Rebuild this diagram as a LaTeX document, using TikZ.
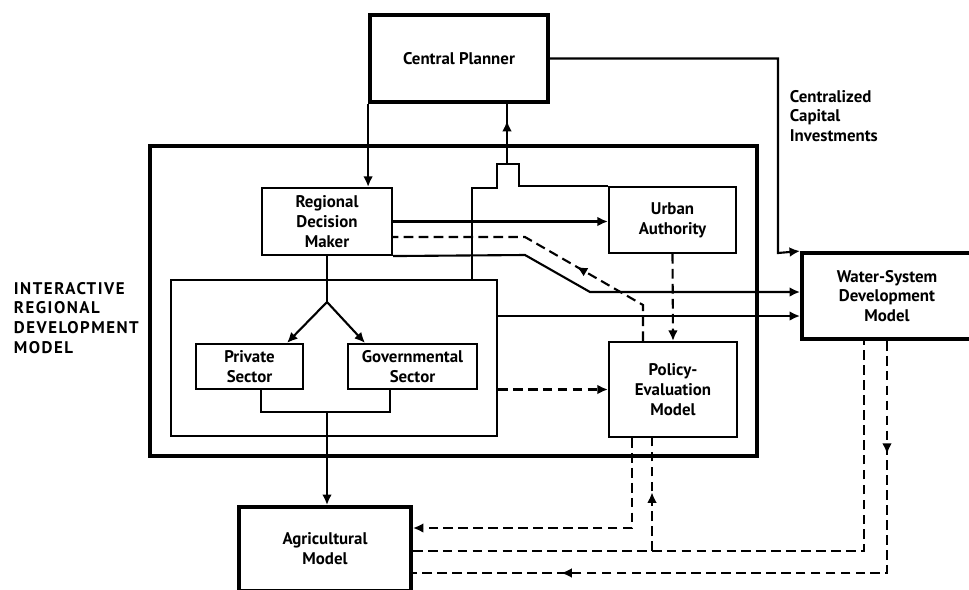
\documentclass[tikz,border=0pt]{standalone}
\usepackage{fontspec}
\setmainfont{PT Sans}
\usetikzlibrary{arrows.meta,decorations.markings}
\begin{document}
\begin{tikzpicture}[x=0.02cm, y=-0.02cm, font=\bfseries\fontsize{9.6}{11.3}\selectfont,
    >={Latex[length=6pt,width=5.5pt]}, line width=1.2pt,
    unit/.style={draw, line width=1.2pt, align=center, inner sep=0pt},
    major/.style={unit, line width=2.2pt},
    flow/.style={dash pattern=on 5.5pt off 3pt},
    midtip/.style={postaction={decorate, decoration={markings, mark=at position #1 with {\arrow{>}}}}}]
  \path[use as bounding box, clip] (0,0) rectangle (969,589);
  \node[major, minimum width=3.56cm, minimum height=1.74cm] (cp) at (459,58.5) {Central Planner};
  \node[major, minimum width=12.14cm, minimum height=6.2cm] (irdm) at (453.5,301) {};
  \node[unit, minimum width=2.6cm, minimum height=1.34cm] (rdm) at (327,221.5) {Regional\\Decision\\Maker};
  \node[unit, minimum width=2.54cm, minimum height=1.32cm] (urban) at (672.5,220) {Urban\\Authority};
  \node[unit, minimum width=6.52cm, minimum height=3.12cm] (sectors) at (334,358) {};
  \node[unit, minimum width=2.14cm, minimum height=0.9cm] (private) at (249.5,366.5) {Private\\Sector};
  \node[unit, minimum width=2.58cm, minimum height=0.9cm] (gov) at (412.5,366.5) {Governmental\\Sector};
  \node[unit, minimum width=2.56cm, minimum height=1.9cm] (pe) at (673,389.5) {Policy-\\Evaluation\\Model};
  \node[major, minimum width=3.4cm, minimum height=1.72cm] (ws) at (887,296) {Water-System\\Development\\Model};
  \node[major, minimum width=3.44cm, minimum height=1.68cm] (agri) at (325,549) {Agricultural\\Model};
  \node[align=left, anchor=west, font=\bfseries\fontsize{9.6}{11.3}\selectfont\addfontfeature{LetterSpace=9}] (irdmlabel) at (7,318) {INTERACTIVE\\REGIONAL\\DEVELOPMENT\\MODEL};
  \node[align=left, anchor=west] (capital) at (783,116) {Centralized\\Capital\\Investments};
  \coordinate (join) at (507,164);
  \coordinate (fork) at (327,302);
  \coordinate (merge) at (327,412);
  \draw[->] (cp.south west) -- (cp.south west |- rdm.north);
  \draw[midtip=0.72] (join) -- (join |- cp.south);
  \draw (sectors.north -| 472,0) |- (497,188) |- (519,164) |- (urban.north west);
  \draw[->] (rdm.east) -- (rdm.east -| urban.west);
  \draw[flow, midtip=0.37] (pe.north -| 643,0) -- (643,305) -- (525,237) -- (rdm.east |- 0,237);
  \draw[->] (rdm.south east) -- (525,255) -- (590,292) -- (ws.west |- 0,292);
  \draw[->] (sectors.east |- 0,316) -- (ws.west |- 0,316);
  \draw[->] (cp.east) -| (778,253) -- (ws.north west);
  \draw (rdm.south) -- (fork);
  \draw[->] (fork) -- (private.north -| 287,0);
  \draw[->] (fork) -- (gov.north -| 365,0);
  \draw (private.south -| 261,0) -- (261,412) -| (gov.south -| 390,0);
  \draw[->] (merge) -- (merge |- agri.north);
  \draw[flow, ->] (sectors.east |- pe.west) -- (pe.west);
  \draw[flow, ->] (urban.south) -- (pe.north);
  \draw[flow, ->] (pe.south -| 632,0) |- (agri.east |- 0,528);
  \draw[flow] (agri.east |- 0,551) -| (ws.south -| 864,0);
  \draw[flow, midtip=0.52] (652,551) -- (pe.south -| 652,0);
  \draw[flow, midtip=0.16, midtip=0.79] (ws.south -| 887,0) |- (agri.east |- 0,573);
\end{tikzpicture}
\end{document}
